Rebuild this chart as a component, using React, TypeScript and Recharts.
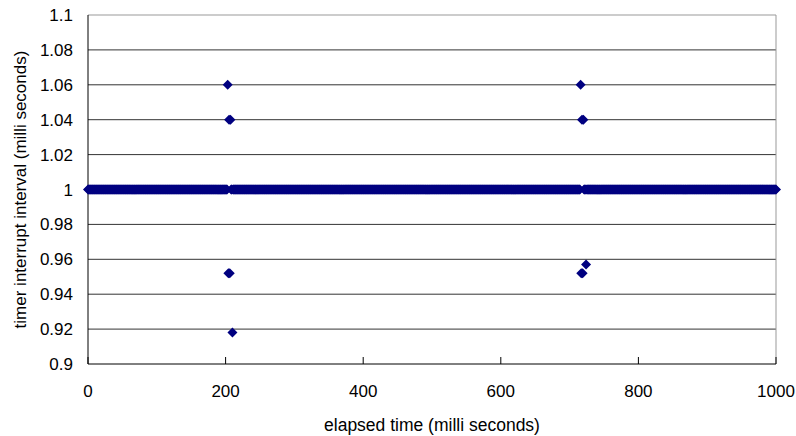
import React from "react";
import {
  ScatterChart, Scatter, XAxis, YAxis, CartesianGrid, ReferenceLine,
} from "recharts";

const NAVY = "#000080";
const FONT = '"Liberation Sans", Arial, sans-serif';

const X_TICKS = [0, 200, 400, 600, 800, 1000];
const Y_TICKS = [0.9, 0.92, 0.94, 0.96, 0.98, 1, 1.02, 1.04, 1.06, 1.08, 1.1];
const GRID_Y = [0.92, 0.94, 0.96, 0.98, 1, 1.02, 1.04, 1.06, 1.08];

// measured interrupt intervals, run-length coded: [count, interval ms]
// elapsed time of each sample = previous elapsed time + its interval
const FIRST_SAMPLE_MS = 0;
const INTERVAL_RUNS: [number, number][] = [
  [203, 1],
  [1, 1.06],
  [1, 0.952],
  [1, 1.04],
  [1, 0.952],
  [1, 1.04],
  [2, 1],
  [1, 0.918],
  [505, 1],
  [1, 1.06],
  [1, 0.952],
  [1, 1.04],
  [1, 0.952],
  [1, 1.04],
  [3, 1],
  [1, 0.957],
  [276, 1],
];

const samples: { t: number; v: number }[] = [];
let t: number | null = null;
for (const [n, v] of INTERVAL_RUNS) {
  for (let i = 0; i < n; i++) {
    t = t === null ? FIRST_SAMPLE_MS : t + v;
    samples.push({ t, v });
  }
}

const Diamond = (p: any) => {
  const { cx, cy } = p;
  const r = 5;
  return <polygon points={`${cx},${cy - r} ${cx + r},${cy} ${cx},${cy + r} ${cx - r},${cy}`} fill={NAVY} />;
};

const XTick = (p: any) => {
  const { x, y, payload } = p;
  return (
    <g>
      <line x1={x} y1={y} x2={x} y2={y - 7} stroke="#000" />
      <text x={x} y={y + 33} textAnchor="middle" fontSize={17} fontFamily={FONT} fill="#000">
        {payload.value}
      </text>
    </g>
  );
};

export default function App() {
  return (
    <div style={{ position: "absolute", left: 0, top: 0, background: "#fff" }}>
      <ScatterChart width={796} height={436} margin={{ top: 15, right: 20, left: 0, bottom: 0 }}>
        <CartesianGrid horizontal vertical={false} horizontalValues={GRID_Y} stroke="#333" />
        <XAxis
          type="number" dataKey="t" domain={[0, 1000]} ticks={X_TICKS} height={72}
          axisLine={{ stroke: "#000" }} tickLine={false} tickSize={0} tickMargin={0}
          tick={<XTick />} interval={0}
          label={{ value: "elapsed time (milli seconds)", position: "insideBottom", offset: 5, fontSize: 17.5, fontFamily: FONT, fill: "#000" }}
        />
        <YAxis
          type="number" dataKey="v" domain={[0.9, 1.1]} ticks={Y_TICKS} width={88}
          axisLine={{ stroke: "#000" }} tickLine={false} tickSize={0} tickMargin={15} interval={0}
          tick={{ fontSize: 17, fontFamily: FONT, fill: "#000" }}
          tickFormatter={(v: number) => String(v)}
          label={{ value: "timer interrupt interval (milli seconds)", angle: -90, position: "insideLeft", offset: 20, fontSize: 17, fontFamily: FONT, fill: "#000", style: { textAnchor: "middle" } }}
        />
        <Scatter data={samples} fill={NAVY} shape={<Diamond />} isAnimationActive={false} />
        <ReferenceLine y={1.1} stroke="#999" />
        <ReferenceLine x={1000} stroke="#999" />
      </ScatterChart>
    </div>
  );
}
